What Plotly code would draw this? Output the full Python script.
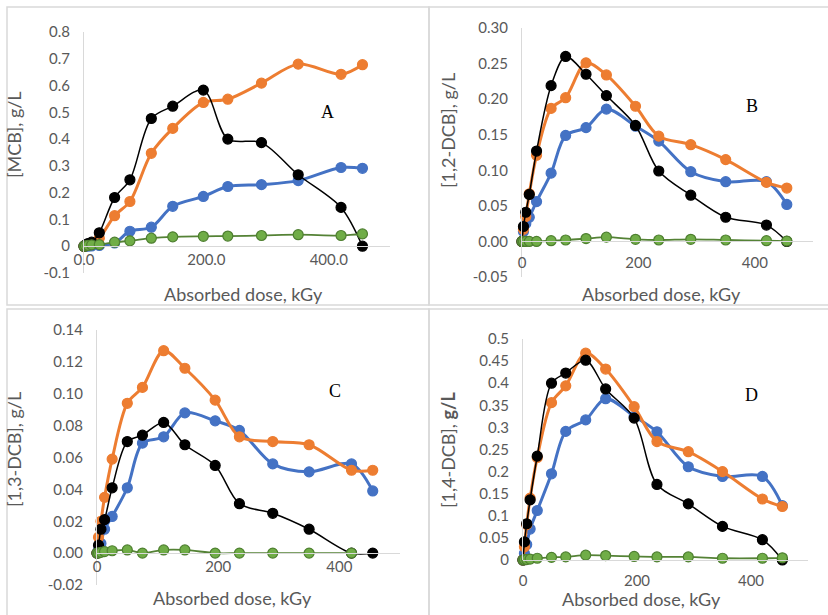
import plotly.graph_objects as go

W, H = 828, 615

dose = [0, 2.5, 6.5, 12.5, 25, 50, 75, 110, 145, 195, 235, 290, 350, 420, 455]

# Panel A: MCB
a_blue = [0, 0, 0, 0.001, 0.003, 0.012, 0.056, 0.071, 0.149, 0.186, 0.223, 0.230, 0.245, 0.294, 0.291]
a_orange = [0, 0.002, 0.005, 0.010, 0.030, 0.114, 0.167, 0.347, 0.440, 0.537, 0.549, 0.609, 0.680, 0.642, 0.678]
a_black = [0, 0.005, 0.010, 0.015, 0.050, 0.182, 0.248, 0.477, 0.523, 0.583, 0.400, 0.387, 0.267, 0.145, 0.0]
a_green = [0, 0.001, 0.003, 0.005, 0.006, 0.015, 0.020, 0.030, 0.035, 0.037, 0.038, 0.040, 0.043, 0.040, 0.046]

# Panel B: 1,2-DCB
b_blue = [0, 0.014, 0.025, 0.034, 0.056, 0.096, 0.149, 0.160, 0.186, 0.162, 0.141, 0.098, 0.084, 0.084, 0.052]
b_orange = [0, 0.017, 0.035, 0.067, 0.121, 0.187, 0.202, 0.251, 0.234, 0.190, 0.148, 0.136, 0.115, 0.083, 0.075]
b_black = [0, 0.021, 0.041, 0.066, 0.127, 0.219, 0.260, 0.235, 0.205, 0.163, 0.099, 0.065, 0.034, 0.023, 0.0]
b_green = [0, 0, 0, 0, 0, 0.001, 0.002, 0.004, 0.006, 0.003, 0.002, 0.003, 0.002, 0.001, 0.0005]

# Panel C: 1,3-DCB
c_blue = [0, 0.002, 0.006, 0.015, 0.023, 0.041, 0.069, 0.073, 0.088, 0.083, 0.077, 0.056, 0.051, 0.056, 0.039]
c_orange = [0, 0.010, 0.020, 0.035, 0.059, 0.094, 0.104, 0.127, 0.116, 0.096, 0.073, 0.070, 0.068, 0.052, 0.052]
c_black = [0, 0.005, 0.015, 0.021, 0.041, 0.070, 0.074, 0.082, 0.068, 0.055, 0.031, 0.025, 0.015, 0.0, 0.0]
c_green = [0, 0, 0.0005, 0.001, 0.0015, 0.002, 0.0, 0.002, 0.002, 0.0, 0.0, 0.0, 0.0, 0.0, None]

# Panel D: 1,4-DCB
d_blue = [0, 0.015, 0.035, 0.070, 0.112, 0.195, 0.291, 0.317, 0.365, 0.325, 0.290, 0.211, 0.189, 0.189, 0.123]
d_orange = [0, 0.030, 0.080, 0.140, 0.232, 0.356, 0.394, 0.468, 0.432, 0.347, 0.268, 0.245, 0.200, 0.138, 0.121]
d_black = [0, 0.041, 0.082, 0.136, 0.235, 0.400, 0.423, 0.452, 0.387, 0.321, 0.171, 0.127, 0.076, 0.046, 0.0]
d_green = [0, 0.001, 0.001, 0.002, 0.004, 0.006, 0.007, 0.011, 0.010, 0.008, 0.007, 0.007, 0.004, 0.004, 0.005]

x_ticks = [0, 200, 400]
a_xtext = ["0.0", "200.0", "400.0"]
bcd_xtext = ["0", "200", "400"]
a_yticks = [-0.1, 0, 0.1, 0.2, 0.3, 0.4, 0.5, 0.6, 0.7, 0.8]
a_ytext = ["-0.1", "0", "0.1", "0.2", "0.3", "0.4", "0.5", "0.6", "0.7", "0.8"]
b_yticks = [-0.05, 0, 0.05, 0.10, 0.15, 0.20, 0.25, 0.30]
b_ytext = ["-0.05", "0.00", "0.05", "0.10", "0.15", "0.20", "0.25", "0.30"]
c_yticks = [-0.02, 0, 0.02, 0.04, 0.06, 0.08, 0.10, 0.12, 0.14]
c_ytext = ["-0.02", "0.00", "0.02", "0.04", "0.06", "0.08", "0.10", "0.12", "0.14"]
d_yticks = [0, 0.05, 0.1, 0.15, 0.2, 0.25, 0.3, 0.35, 0.4, 0.45, 0.5]
d_ytext = ["0", "0.05", "0.1", "0.15", "0.2", "0.25", "0.3", "0.35", "0.4", "0.45", "0.5"]

y_titles = ["[MCB], g/L", "[1,2-DCB], g/L", "[1,3-DCB], g/L", "[1,4-DCB], <b>g/L</b>"]
x_title = "Absorbed dose, kGy"
letters = ["A", "B", "C", "D"]

BLUE, ORANGE, BLACK = "#4472C4", "#ED7D31", "#000000"
GREEN_FILL, GREEN_EDGE, GREEN_LINE = "#70AD47", "#4E7F30", "#548235"
AX = "#D9D9D9"
TXT = "#595959"
FONT = "Lato"

# pixel layout of each panel: plot area (x0, x1, ytop, ybottom)
panels = [
    dict(px=(84, 390), py=(32, 273), yr=(-0.1, 0.8), yt=(a_yticks, a_ytext), xt=a_xtext, xso=0,
         data=(a_blue, a_orange, a_black, a_green), ytitle=(14, 135), xtitle=(243, 294), letter=(327, 112)),
    dict(px=(522, 813), py=(28, 277), yr=(-0.05, 0.30), yt=(b_yticks, b_ytext), xt=bcd_xtext, xso=8,
         data=(b_blue, b_orange, b_black, b_green), ytitle=(448, 130), xtitle=(661, 294), letter=(752, 106)),
    dict(px=(97, 400), py=(330, 585), yr=(-0.02, 0.14), yt=(c_yticks, c_ytext), xt=bcd_xtext, xso=0,
         data=(c_blue, c_orange, c_black, c_green), ytitle=(14, 450), xtitle=(233, 598), letter=(335, 391)),
    dict(px=(523, 808), py=(339, 560), yr=(0, 0.5), yt=(d_yticks, d_ytext), xt=bcd_xtext, xso=7,
         data=(d_blue, d_orange, d_black, d_green), ytitle=(448, 450), xtitle=(641, 599), letter=(751, 395)),
]

fig = go.Figure()
layout = dict(width=W, height=H, margin=dict(l=0, r=0, t=0, b=0, pad=0, autoexpand=False),
              paper_bgcolor="white", plot_bgcolor="rgba(0,0,0,0)", showlegend=False)
annotations = []
shapes = []

for i, p in enumerate(panels):
    n = "" if i == 0 else str(i + 1)
    xa, ya = "x" + n, "y" + n
    xd = [p["px"][0] / W, p["px"][1] / W]
    yd = [1 - p["py"][1] / H, 1 - p["py"][0] / H]
    ymin, ymax = p["yr"]
    zero_pos = yd[0] + (0 - ymin) / (ymax - ymin) * (yd[1] - yd[0])
    layout["xaxis" + n] = dict(domain=xd, range=[0, 500], anchor="free", position=zero_pos,
                               showline=True, linecolor=AX, linewidth=1, automargin=False,
                               showgrid=False, zeroline=False, ticks="", tickvals=x_ticks,
                               ticklabelstandoff=p["xso"],
                               ticktext=p["xt"], tickfont=dict(family=FONT, size=15, color=TXT))
    layout["yaxis" + n] = dict(domain=yd, range=[ymin, ymax], anchor=xa, showline=True,
                               linecolor=AX, linewidth=1, showgrid=False, zeroline=False, ticks="",
                               tickvals=p["yt"][0], ticktext=p["yt"][1], ticklabelstandoff=10,
                               automargin=False,
                               tickfont=dict(family=FONT, size=15, color=TXT))
    blue, orange, black, green = p["data"]
    specs = [
        (blue, BLUE, 3, BLUE, BLUE),
        (orange, ORANGE, 3, ORANGE, ORANGE),
        (black, BLACK, 1.5, BLACK, BLACK),
        (green, GREEN_LINE, 1.8, GREEN_FILL, GREEN_EDGE),
    ]
    for vals, lc, lw, mf, me in specs:
        fig.add_trace(go.Scatter(
            x=dose, y=vals, xaxis=xa, yaxis=ya, mode="lines+markers",
            line=dict(color=lc, width=lw, shape="spline", smoothing=0.9),
            marker=dict(size=10, color=mf, line=dict(color=me, width=1.2)),
            cliponaxis=False, hoverinfo="skip", connectgaps=False))
    annotations.append(dict(text=y_titles[i], x=p["ytitle"][0] / W, y=1 - p["ytitle"][1] / H,
                            xref="paper", yref="paper", showarrow=False, textangle=-90,
                            xanchor="center", yanchor="middle",
                            font=dict(family=FONT, size=18, color=TXT)))
    annotations.append(dict(text=x_title, x=p["xtitle"][0] / W, y=1 - p["xtitle"][1] / H,
                            xref="paper", yref="paper", showarrow=False,
                            xanchor="center", yanchor="middle",
                            font=dict(family=FONT, size=18, color=TXT)))
    annotations.append(dict(text=letters[i], x=p["letter"][0] / W, y=1 - p["letter"][1] / H,
                            xref="paper", yref="paper", showarrow=False,
                            xanchor="center", yanchor="middle",
                            font=dict(family="Liberation Serif", size=18, color="#000000")))

# panel frames
frames = [(7, 429, 7, 305), (429, 830, 7, 305), (7, 429, 309, 620), (429, 830, 309, 620)]
for x0, x1, y0, y1 in frames:
    shapes.append(dict(type="rect", xref="paper", yref="paper", x0=x0 / W, x1=x1 / W,
                       y0=1 - y1 / H, y1=1 - y0 / H, line=dict(color=AX, width=1.5)))

layout["annotations"] = annotations
layout["shapes"] = shapes
fig.update_layout(**layout)
fig.write_html("out.html", post_script="document.body.style.margin='0';")
